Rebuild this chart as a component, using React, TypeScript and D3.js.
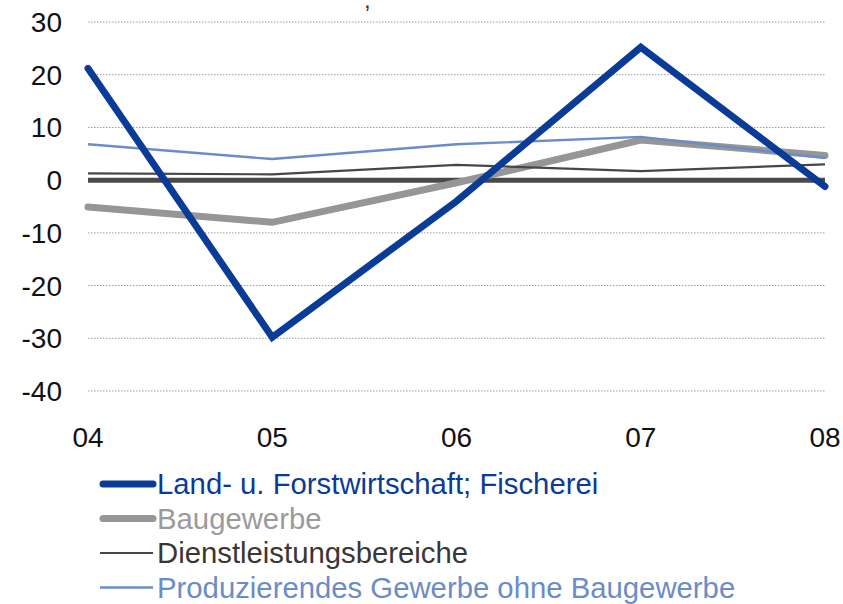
import React, { useEffect, useRef } from "react";
import * as d3 from "d3";

const years = ["04", "05", "06", "07", "08"];
const yTicks = [30, 20, 10, 0, -10, -20, -30, -40];

const landForst = [21.2, -29.8, -4.0, 25.2, -1.2];
const baugewerbe = [-5.1, -8.0, -0.5, 7.6, 4.7];
const dienstleistung = [1.3, 1.1, 2.9, 1.7, 3.0];
const produzierend = [6.8, 4.0, 6.8, 8.2, 4.2];

const series = [
  { name: "Land- u. Forstwirtschaft; Fischerei", values: landForst, color: "#0a3b97", width: 7, text: "#0a3b97" },
  { name: "Baugewerbe", values: baugewerbe, color: "#969696", width: 7, text: "#9a9a9a" },
  { name: "Dienstleistungsbereiche", values: dienstleistung, color: "#4a4646", width: 2.2, text: "#3a3636" },
  { name: "Produzierendes Gewerbe ohne Baugewerbe", values: produzierend, color: "#6a8cc9", width: 2.4, text: "#6a8cc9" },
];

const drawOrder = [1, 2, 3, 0];

export default function App() {
  const ref = useRef<SVGSVGElement>(null);

  useEffect(() => {
    const svg = d3.select(ref.current);
    svg.selectAll("*").remove();

    const x = d3.scalePoint().domain(years).range([88, 825]);
    const y = d3.scaleLinear().domain([-40, 30]).range([391, 22]);

    // remnant of the title cut off above the picture
    svg.append("text").attr("x", 364).attr("y", 8).attr("font-size", 24).attr("fill", "#333").text(",");

    // grid
    svg
      .append("g")
      .selectAll("line")
      .data(yTicks.filter((d) => d !== 0))
      .join("line")
      .attr("x1", 88)
      .attr("x2", 825)
      .attr("y1", (d) => y(d))
      .attr("y2", (d) => y(d))
      .attr("stroke", "#9a9a9a")
      .attr("stroke-width", 1)
      .attr("stroke-dasharray", "1.5,1.5");

    // zero line
    svg
      .append("line")
      .attr("x1", 88)
      .attr("x2", 825)
      .attr("y1", y(0))
      .attr("y2", y(0))
      .attr("stroke", "#4d4848")
      .attr("stroke-width", 5);

    // y labels
    svg
      .append("g")
      .selectAll("text")
      .data(yTicks)
      .join("text")
      .attr("x", 62)
      .attr("y", (d) => y(d) + 10)
      .attr("text-anchor", "end")
      .attr("font-size", 28)
      .attr("fill", "#111")
      .text((d) => String(d));

    // x labels
    svg
      .append("g")
      .selectAll("text")
      .data(years)
      .join("text")
      .attr("x", (d) => x(d)!)
      .attr("y", 447)
      .attr("text-anchor", "middle")
      .attr("font-size", 28)
      .attr("fill", "#111")
      .text((d) => d);

    const line = d3
      .line<number>()
      .x((_, i) => x(years[i])!)
      .y((d) => y(d));

    drawOrder.forEach((i) => {
      const s = series[i];
      svg
        .append("path")
        .attr("d", line(s.values))
        .attr("fill", "none")
        .attr("stroke", s.color)
        .attr("stroke-width", s.width)
        .attr("stroke-linecap", s.width > 5 ? "round" : "butt")
        .attr("stroke-linejoin", "miter");
    });

    // legend
    const legend = svg
      .append("g")
      .selectAll("g")
      .data(series)
      .join("g")
      .attr("transform", (_, i) => `translate(0, ${484 + i * 34.5})`);

    legend
      .append("line")
      .attr("x1", (d) => (d.width > 5 ? 103 : 100))
      .attr("x2", 153)
      .attr("y1", 0)
      .attr("y2", 0)
      .attr("stroke", (d) => d.color)
      .attr("stroke-width", (d) => d.width)
      .attr("stroke-linecap", (d) => (d.width > 5 ? "round" : "butt"));

    legend
      .append("text")
      .attr("x", 157)
      .attr("y", 10)
      .attr("font-size", 29.3)
      .attr("fill", (d) => d.text)
      .text((d) => d.name);
  }, []);

  return (
    <svg
      ref={ref}
      width={843}
      height={604}
      style={{ position: "absolute", left: 0, top: 0, fontFamily: "'Liberation Sans', Arial, sans-serif", background: "#fff" }}
    />
  );
}
